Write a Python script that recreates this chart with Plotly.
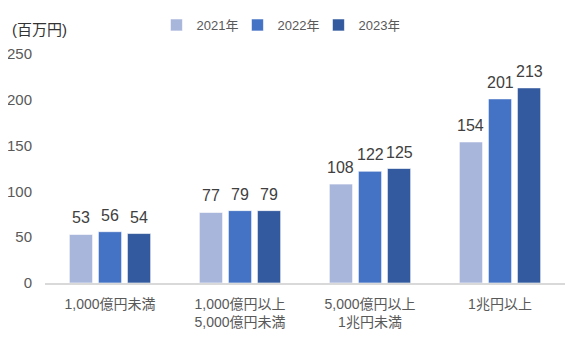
import plotly.graph_objects as go

categories = ["1,000億円未満", "1,000億円以上<br>5,000億円未満", "5,000億円以上<br>1兆円未満", "1兆円以上"]
series_names = ["2021年", "2022年", "2023年"]
values_2021 = [53, 77, 108, 154]
values_2022 = [56, 79, 122, 201]
values_2023 = [54, 79, 125, 213]
y_ticks = [0, 50, 100, 150, 200, 250]

colors = ["#A9B6DC", "#4472C4", "#335A9E"]
font_family = "Liberation Sans, Noto Sans CJK JP, sans-serif"

all_values = [values_2021, values_2022, values_2023]
bargap = 0.33

fig = go.Figure()
for name, vals, col in zip(series_names, all_values, colors):
    fig.add_trace(go.Bar(
        name=name, x=categories, y=vals,
        marker=dict(color=col, line=dict(color="rgba(255,255,255,0.6)", width=1)),
        cliponaxis=False,
    ))

# value labels above each bar (offset within the group by one bar slot)
category_px = 520 / len(categories)
slot_px = category_px * (1 - bargap) / len(series_names)
annotations = []
for i, vals in enumerate(all_values):
    for cat, v in zip(categories, vals):
        annotations.append(dict(
            x=cat, y=v, xref="x", yref="y", text=str(v), showarrow=False,
            xanchor="center", yanchor="bottom", xshift=(i - 1) * slot_px, yshift=6,
            font=dict(size=16, color="#404040", family=font_family),
        ))
annotations.append(dict(text="(百万円)", x=-0.067, y=1.105, xref="paper", yref="paper",
                        xanchor="left", yanchor="middle", showarrow=False,
                        font=dict(size=15, color="#333333")))

# page body has an 8px default margin; offsets compensate for it
fig.update_layout(
    width=580, height=360,
    margin=dict(l=37, r=23, t=46, b=85, autoexpand=False),
    paper_bgcolor="white", plot_bgcolor="white",
    barmode="group", bargap=bargap, bargroupgap=0.2,
    font=dict(family=font_family, color="#595959", size=14),
    legend=dict(orientation="h", x=0.448, xanchor="center", y=1 - 2 / 360, yanchor="top",
                yref="container", font=dict(size=13, color="#595959"),
                itemwidth=30, traceorder="normal", entrywidth=36, entrywidthmode="pixels"),
    xaxis=dict(showline=True, linecolor="#D9D9D9", linewidth=1.5, ticks="",
               tickfont=dict(size=14, color="#595959"), showgrid=False, automargin=False,
               ticklabelstandoff=7),
    yaxis=dict(range=[0, 250], tickvals=y_ticks, showgrid=False, zeroline=False,
               showline=False, tickfont=dict(size=15, color="#595959"),
               ticklabelstandoff=12, automargin=False),
    annotations=annotations,
)

fig.write_html("out.html")
